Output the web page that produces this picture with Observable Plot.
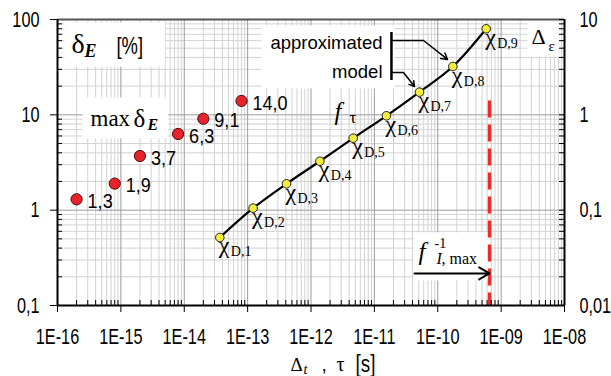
<!DOCTYPE html>
<html><head><meta charset="utf-8">
<script src="https://cdn.jsdelivr.net/npm/d3@7"></script>
<script src="https://cdn.jsdelivr.net/npm/@observablehq/plot@0.6"></script>
<style>html,body{margin:0;padding:0;background:#fff}</style>
</head><body><div id="chart"></div>
<script>
// ---- data ----
const maxDeltaTau = [2e-16, 8e-16, 2e-15, 8e-15, 2e-14, 8e-14];
const maxDeltaE = [1.3, 1.9, 3.7, 6.3, 9.1, 14.0];
const maxDeltaLabels = ["1,3", "1,9", "3,7", "6,3", "9,1", "14,0"];
const chiTau = [3.64e-14, 1.22e-13, 4.1e-13, 1.38e-12, 4.63e-12, 1.55e-11, 5.15e-11, 1.73e-10, 5.82e-10];
const chiDeltaEps = [0.0517, 0.105, 0.189, 0.326, 0.569, 0.977, 1.73, 3.21, 7.99];
const chiLabels = ["D,1", "D,2", "D,3", "D,4", "D,5", "D,6", "D,7", "D,8", "D,9"];
const fIMaxInv = 6.56e-10;
const fIMaxTop = 14.0;
const decadeTicksX = [1e-16, 1e-15, 1e-14, 1e-13, 1e-12, 1e-11, 1e-10, 1e-9, 1e-8];
const decadeLabelsX = ["1E-16", "1E-15", "1E-14", "1E-13", "1E-12", "1E-11", "1E-10", "1E-09", "1E-08"];
const decadeTicksY = [0.1, 1, 10, 100];
const leftLabels = ["0,1", "1", "10", "100"];
const rightLabels = ["0,01", "0,1", "1", "10"];
// annotation geometry (data coordinates)
const bracketX = 1.86e-11, bracketY = [22.9, 73.1];
const calloutUpper = {x0: 1.86e-11, xk: 5.96e-11, y: 60.2, xe: 1.426e-10, ye: 38.1};
const calloutLower = {x0: 1.86e-11, xk: 2.88e-11, y: 27.8, xe: 4.3e-11, ye: 19.8};
const fArrow = {x1: 4.3e-11, y: 0.217};

// ---- derived ----
const red = maxDeltaTau.map((t, i) => ({t, v: maxDeltaE[i], label: maxDeltaLabels[i]}));
const chi = chiTau.map((t, i) => ({t, v: chiDeltaEps[i] * 10, sub: chiLabels[i]}));
const minorX = decadeTicksX.slice(0, -1).flatMap(d => [2,3,4,5,6,7,8,9].map(k => d * k));
const minorY = decadeTicksY.slice(0, -1).flatMap(d => [2,3,4,5,6,7,8,9].map(k => d * k));
const idx = (arr, d) => arr.findIndex(v => Math.abs(v / d - 1) < 1e-6);
const fmtX = d => decadeLabelsX[idx(decadeTicksX, d)];
const fmtYL = d => leftLabels[idx(decadeTicksY, d)];
const fmtYR = d => rightLabels[idx(decadeTicksY, d)];

const ML = 57, MT = 19, MR = 47, MB = 71;
const SERIF = "'Liberation Serif','Times New Roman',serif";
const SANS = "'Liberation Sans',Arial,sans-serif";

function note(str, px, py, o = {}) {
  const {box = "-", sx = 1, ...rest} = o;
  const tag = `note ${box} ${sx}`;
  return Plot.text([str], {
    text: d => d, frameAnchor: "top-left", dx: px - ML, dy: py - MT,
    textAnchor: "start", lineAnchor: "bottom", fontFamily: SERIF, fontSize: 20,
    fill: "black", ariaLabel: () => tag, ...rest
  });
}

const chart = Plot.plot({
  width: 611, height: 376,
  marginLeft: ML, marginTop: MT, marginRight: MR, marginBottom: MB,
  x: {type: "log", domain: [1e-16, 1e-8]},
  y: {type: "log", domain: [0.1, 100]},
  style: {fontFamily: SANS, background: "white", overflow: "visible", color: "black"},
  marks: [
    Plot.ruleX(minorX, {stroke: "#d2d2d2", strokeWidth: 1}),
    Plot.ruleY(minorY, {stroke: "#d2d2d2", strokeWidth: 1}),
    Plot.ruleX(decadeTicksX, {stroke: "#9c9c9c", strokeWidth: 1}),
    Plot.ruleY(decadeTicksY, {stroke: "#9c9c9c", strokeWidth: 1}),
    // red dashed limit
    Plot.ruleX([fIMaxInv], {y1: fIMaxTop, y2: 0.1, stroke: "#ee2a2a", strokeWidth: 3.5, strokeDasharray: "17,7", ariaLabel: () => "limit"}),
    Plot.arrow([fArrow], {x1: "x1", x2: () => fIMaxInv, y1: "y", y2: "y", stroke: "black", strokeWidth: 2, headLength: 9, bend: 0}),
    // callout bracket
    Plot.ruleX([bracketX], {y1: bracketY[0], y2: bracketY[1], stroke: "black", strokeWidth: 2.5}),
    Plot.link([calloutUpper, calloutLower], {x1: "x0", x2: "xk", y1: "y", y2: "y", stroke: "black", strokeWidth: 1.5}),
    Plot.arrow([calloutUpper, calloutLower], {x1: "xk", y1: "y", x2: "xe", y2: "ye", stroke: "black", strokeWidth: 1.5, headLength: 7, bend: 0}),
    // approximated model curve and points
    Plot.line(chi, {x: "t", y: "v", curve: "catmull-rom", stroke: "black", strokeWidth: 2.2}),
    Plot.dot(chi, {x: "t", y: "v", r: 4.3, fill: "#f3ee3c", stroke: "#222", strokeWidth: 1}),
    Plot.dot(red, {x: "t", y: "v", r: 5.6, fill: "#e8232b", stroke: "#4a0a0a", strokeWidth: 1}),
    Plot.text(red, {x: "t", y: "v", text: "label", dx: 11, dy: 2, textAnchor: "start", fontSize: 21, fontFamily: SANS, fill: "black", ariaLabel: () => "note - 0.86"}),
    Plot.text(chi, {x: "t", y: "v", text: () => "χ", dx: -1, dy: 16, textAnchor: "start", lineAnchor: "bottom", fontSize: 24, fontFamily: SERIF, fill: "black"}),
    Plot.text(chi, {x: "t", y: "v", text: "sub", dx: 11, dy: 19, textAnchor: "start", lineAnchor: "bottom", fontSize: 14, fontFamily: SERIF, fill: "black"}),
    // annotations
    note("δ", 71, 52, {fontSize: 28, box: "A"}),
    note("E", 84, 56, {fontSize: 18, fontStyle: "italic", fontWeight: "bold", box: "A"}),
    note("[%]", 116, 53, {fontSize: 23, fontFamily: SANS, box: "A", sx: 0.8}),
    note("max", 90, 125, {fontSize: 23, box: "B"}),
    note("δ", 133, 126, {fontSize: 25, box: "B"}),
    note("E", 147, 129, {fontSize: 16, fontStyle: "italic", fontWeight: "bold", box: "B"}),
    note("approximated", 382, 48, {fontSize: 18.5, fontFamily: SANS, textAnchor: "end", box: "C"}),
    note("model", 382, 77, {fontSize: 18.5, fontFamily: SANS, textAnchor: "end", box: "C"}),
    note("Δ", 531, 43, {fontSize: 22, box: "D"}),
    note("ε", 548, 50, {fontSize: 15, box: "D"}),
    note("f", 418, 259, {fontSize: 25, fontStyle: "italic", box: "E"}),
    note("-1", 434, 247, {fontSize: 14, box: "E"}),
    note("I", 436, 263, {fontSize: 16, fontStyle: "italic", box: "E"}),
    note(", max", 441, 263, {fontSize: 16, box: "E"}),
    note("f", 334, 119, {fontSize: 25, fontStyle: "italic"}),
    note("τ", 349, 122, {fontSize: 17}),
    // x axis title
    note("Δ", 290, 370, {fontSize: 19}),
    note("t", 303, 373, {fontSize: 14, fontStyle: "italic"}),
    note(",", 321, 370, {fontSize: 19, fontFamily: SANS}),
    note("τ", 336, 370, {fontSize: 20}),
    note("[s]", 355, 371, {fontSize: 23, fontFamily: SANS, sx: 0.82}),
    // frame
    Plot.ruleY([100], {stroke: "#555", strokeWidth: 2}),
    Plot.ruleY([0.1], {stroke: "black", strokeWidth: 2}),
    Plot.ruleX([1e-16], {stroke: "black", strokeWidth: 2}),
    Plot.ruleX([1e-8], {stroke: "black", strokeWidth: 2}),
    // axes
    Plot.axisX({ticks: decadeTicksX, tickFormat: fmtX, tickSize: 7, tickPadding: 16, fontSize: 22, label: null}),
    Plot.axisX({ticks: minorX, tickFormat: () => "", tickSize: 5, dy: -5, label: null}),
    Plot.axisY({ticks: decadeTicksY, tickFormat: fmtYL, tickSize: 7, tickPadding: 11, fontSize: 22, label: null}),
    Plot.axisY({ticks: minorY, tickFormat: () => "", tickSize: 5, dx: 5, label: null}),
    Plot.axisY({anchor: "right", ticks: decadeTicksY, tickFormat: fmtYR, tickSize: 6, dx: -6, tickPadding: 15, fontSize: 22, label: null}),
    Plot.axisY({anchor: "right", ticks: minorY, tickFormat: () => "", tickSize: 6, dx: -6, label: null})
  ]
});

document.getElementById("chart").append(chart);

const addScale = (t, sx) => t.setAttribute("transform", (t.getAttribute("transform") || "") + ` scale(${sx},1)`);
// condense the narrow-looking axis tick labels
chart.querySelectorAll("g[aria-label$='tick label']").forEach(g => {
  g.querySelectorAll("text").forEach(t => addScale(t, 0.74));
});
// annotation texts: condense & collect boxes
const pads = {A: [7, 5, 22, 6], B: [8, 7, 10, 6], C: [9, 6, 12, 7], D: [4, 4, 4, 3], E: [5, 3, 12, 14]};
const noteTexts = [...chart.querySelectorAll("text[aria-label^='note ']")];
noteTexts.forEach(t => {
  const sx = +t.getAttribute("aria-label").split(" ")[2];
  if (sx && sx !== 1) addScale(t, sx);
});
const sr = chart.getBoundingClientRect();
const boxes = {};
noteTexts.forEach(t => {
  const id = t.getAttribute("aria-label").split(" ")[1];
  if (id === "-" || !pads[id]) return;
  const r = t.getBoundingClientRect();
  const b = boxes[id] || (boxes[id] = {x0: Infinity, y0: Infinity, x1: -Infinity, y1: -Infinity});
  b.x0 = Math.min(b.x0, r.left - sr.left); b.y0 = Math.min(b.y0, r.top - sr.top);
  b.x1 = Math.max(b.x1, r.right - sr.left); b.y1 = Math.max(b.y1, r.bottom - sr.top);
});
const limitEl = chart.querySelector("[aria-label='limit']");
const anchorNode = limitEl ? (limitEl.tagName.toLowerCase() === "g" ? limitEl : limitEl.parentNode) : null;
const boxG = d3.create("svg:g").attr("aria-label", "label boxes");
for (const [id, b] of Object.entries(boxes)) {
  const [pl, pt, pr, pb] = pads[id];
  boxG.append("rect").attr("x", b.x0 - pl).attr("y", b.y0 - pt)
    .attr("width", b.x1 - b.x0 + pl + pr).attr("height", b.y1 - b.y0 + pt + pb).attr("fill", "white");
}
if (anchorNode && anchorNode.parentNode) anchorNode.parentNode.insertBefore(boxG.node(), anchorNode);
</script>
</body></html>
